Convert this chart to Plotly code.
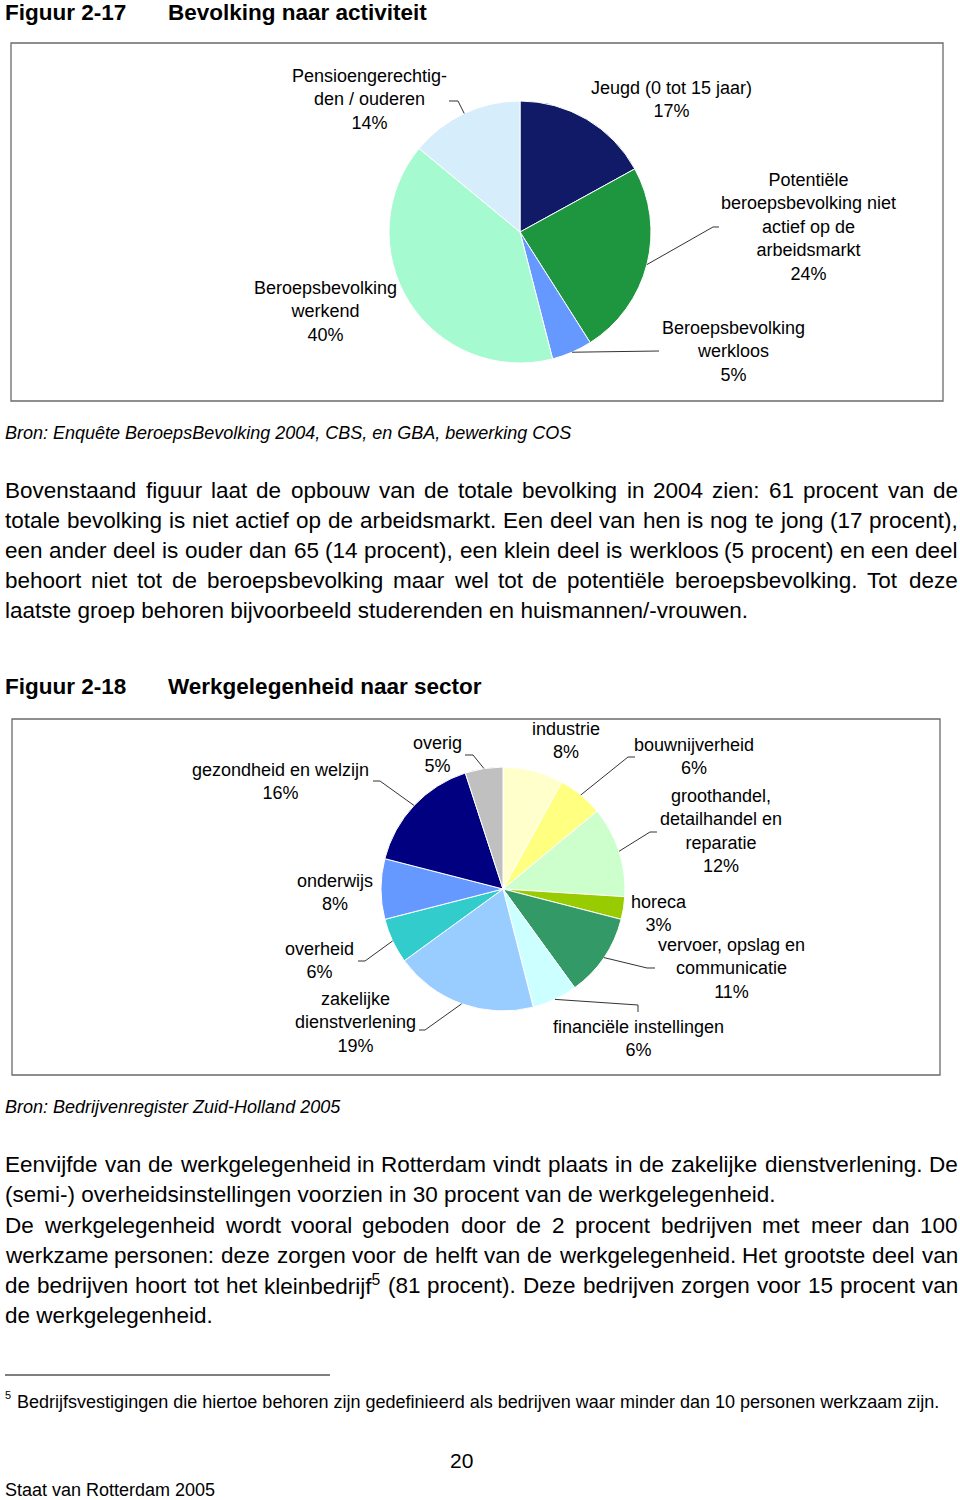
import math
import re
import plotly.graph_objects as go

W, H = 960, 1500
FONT = "Liberation Sans, Arial, sans-serif"

# ---------------- data ----------------
pop_labels = ["Jeugd (0 tot 15 jaar)",
              "Potentiële beroepsbevolking niet actief op de arbeidsmarkt",
              "Beroepsbevolking werkloos",
              "Beroepsbevolking werkend",
              "Pensioengerechtigden / ouderen"]
pop_label_lines = [["Jeugd (0 tot 15 jaar)"],
                   ["Potentiële", "beroepsbevolking niet", "actief op de", "arbeidsmarkt"],
                   ["Beroepsbevolking", "werkloos"],
                   ["Beroepsbevolking", "werkend"],
                   ["Pensioengerechtig-", "den / ouderen"]]
pop_values = [17, 24, 5, 40, 14]
pop_colors = ["#101A66", "#1E9640", "#6699FF", "#A6FAD0", "#D6EDFB"]

sector_labels = ["industrie", "bouwnijverheid", "groothandel, detailhandel en reparatie",
                 "horeca", "vervoer, opslag en communicatie", "financiële instellingen",
                 "zakelijke dienstverlening", "overheid", "onderwijs",
                 "gezondheid en welzijn", "overig"]
sector_label_lines = [["industrie"], ["bouwnijverheid"],
                      ["groothandel,", "detailhandel en", "reparatie"],
                      ["horeca"], ["vervoer, opslag en", "communicatie"],
                      ["financiële instellingen"], ["zakelijke", "dienstverlening"],
                      ["overheid"], ["onderwijs"], ["gezondheid en welzijn"], ["overig"]]
sector_values = [8, 6, 12, 3, 11, 6, 19, 6, 8, 16, 5]
sector_colors = ["#FFFFCC", "#FFFF80", "#CCFFCC", "#99CC00", "#339966", "#CCFFFF",
                 "#99CCFF", "#33CCCC", "#6699FF", "#000080", "#C0C0C0"]

title1 = ("Figuur 2-17", "Bevolking naar activiteit")
title2 = ("Figuur 2-18", "Werkgelegenheid naar sector")
source1 = "Bron: Enquête BeroepsBevolking 2004, CBS, en GBA, bewerking COS"
source2 = "Bron: Bedrijvenregister Zuid-Holland 2005"
para1 = ["Bovenstaand figuur laat de opbouw van de totale bevolking in 2004 zien: 61 procent van de",
         "totale bevolking is niet actief op de arbeidsmarkt. Een deel van hen is nog te jong (17 procent),",
         "een ander deel is ouder dan 65 (14 procent), een klein deel is werkloos (5 procent) en een deel",
         "behoort niet tot de beroepsbevolking maar wel tot de potentiële beroepsbevolking. Tot deze",
         "laatste groep behoren bijvoorbeeld studerenden en huismannen/-vrouwen."]
para2 = ["Eenvijfde van de werkgelegenheid in Rotterdam vindt plaats in de zakelijke dienstverlening. De",
         "(semi-) overheidsinstellingen voorzien in 30 procent van de werkgelegenheid.",
         "De werkgelegenheid wordt vooral geboden door de 2 procent bedrijven met meer dan 100",
         "werkzame personen: deze zorgen voor de helft van de werkgelegenheid. Het grootste deel van",
         "de bedrijven hoort tot het kleinbedrijf<sup>5</sup> (81 procent). Deze bedrijven zorgen voor 15 procent van",
         "de werkgelegenheid."]
para1_justify = [True, True, True, True, False]
para2_justify = [True, False, True, True, True, False]
footnote = "Bedrijfsvestigingen die hiertoe behoren zijn gedefinieerd als bedrijven waar minder dan 10 personen werkzaam zijn."
page_number = "20"
footer = "Staat van Rotterdam 2005"

# ---------------- layout geometry (pixels) ----------------
PIE1 = dict(cx=520, cy=232, r=131)
PIE2 = dict(cx=503, cy=889, r=122)
LABEL_SIZE = 18
BODY_SIZE = 22.5
TITLE_SIZE = 22.5

pop_label_pos = [(671, 100), (808, 227), (733, 351), (325, 311), (369, 100)]
sector_label_pos = [(566, 740), (694, 756), (721, 831), (659, 913), (731, 968),
                    (638, 1038), (355, 1022), (319, 960), (335, 892), (280, 781), (437, 754)]
# leader line anchor points near the labels (pie end is computed from data)
pop_leaders = {4: [(449, 101), (458, 101)], 1: [(719, 227), (713, 227)], 2: [(659, 351)]}
sector_leaders = {10: [(465, 755), (473, 755)], 9: [(373, 781), (380, 781)],
                  7: [(358, 961), (365, 961)], 6: [(419, 1030), (425, 1030)],
                  5: [(638, 1012), (638, 1005)], 4: [(655, 968), (647, 968)],
                  2: [(657, 832), (650, 832)], 1: [(635, 757), (628, 757)]}

# Helvetica/Arial advance widths (1/1000 em)
CW = {' ': 278, '!': 278, '%': 889, '(': 333, ')': 333, ',': 278, '-': 333, '.': 278, '/': 278,
      ':': 278, ';': 278,
      'A': 667, 'B': 667, 'C': 722, 'D': 722, 'E': 667, 'F': 611, 'G': 778, 'H': 722, 'I': 278,
      'J': 500, 'K': 667, 'L': 556, 'M': 833, 'N': 722, 'O': 778, 'P': 667, 'Q': 778, 'R': 722,
      'S': 667, 'T': 611, 'U': 722, 'V': 667, 'W': 944, 'X': 667, 'Y': 667, 'Z': 611,
      'a': 556, 'b': 556, 'c': 500, 'd': 556, 'e': 556, 'f': 278, 'g': 556, 'h': 556, 'i': 222,
      'j': 222, 'k': 500, 'l': 222, 'm': 833, 'n': 556, 'o': 556, 'p': 556, 'q': 556, 'r': 333,
      's': 500, 't': 278, 'u': 556, 'v': 500, 'w': 722, 'x': 500, 'y': 500, 'z': 500,
      'ë': 556, 'ê': 556, 'é': 556}


def tw(s, size):
    sup = re.findall(r"<sup>(.*?)</sup>", s)
    plain = re.sub(r"<sup>.*?</sup>", "", s)
    w = sum(CW.get(c, 556) for c in plain) / 1000 * size
    for t in sup:
        w += sum(CW.get(c, 556) for c in t) / 1000 * size * 0.7
    return w


def px(x):
    return x / W


def py(y):
    return 1 - y / H


annotations = []
shapes = []


def text(s, x, y, size, xanchor="center", yanchor="middle", weight="normal", style="normal"):
    annotations.append(dict(text=s, x=px(x), y=py(y), xref="paper", yref="paper",
                            showarrow=False, xanchor=xanchor, yanchor=yanchor, align="center",
                            borderpad=0, borderwidth=0,
                            font=dict(family=FONT, size=size, color="#000000",
                                      weight=weight, style=style)))


def paragraph(lines, ys, just, x0=5, x1=958, size=BODY_SIZE):
    for line, y, j in zip(lines, ys, just):
        if not j:
            text(line, x0, y, size, xanchor="left")
            continue
        words = line.split(" ")
        ws = [tw(w, size) for w in words]
        gap = (x1 - x0 - sum(ws)) / (len(words) - 1)
        x = x0
        for w, wd in zip(words, ws):
            text(w, x, y, size, xanchor="left")
            x += wd + gap


def edge(pie, values, i):
    cum = sum(values[:i]) + values[i] / 2
    a = 2 * math.pi * cum / sum(values)
    return (pie["cx"] + pie["r"] * math.sin(a), pie["cy"] - pie["r"] * math.cos(a))


def path(points):
    d = "M " + " L ".join(f"{px(x):.5f},{py(y):.5f}" for x, y in points)
    shapes.append(dict(type="path", path=d, xref="paper", yref="paper",
                       line=dict(color="#333333", width=1)))


def rect(x0, y0, x1, y1):
    shapes.append(dict(type="rect", x0=px(x0), x1=px(x1), y0=py(y1), y1=py(y0),
                       xref="paper", yref="paper", line=dict(color="#6a6a6a", width=1.3),
                       layer="below"))


def domain(p):
    return dict(x=[(p["cx"] - p["r"]) / W, (p["cx"] + p["r"]) / W],
                y=[1 - (p["cy"] + p["r"]) / H, 1 - (p["cy"] - p["r"]) / H])


fig = go.Figure()
fig.add_trace(go.Pie(labels=pop_labels, values=pop_values, sort=False, direction="clockwise",
                     rotation=0, textinfo="none", hoverinfo="label+percent",
                     marker=dict(colors=pop_colors, line=dict(color="#FFFFFF", width=1)),
                     domain=domain(PIE1), showlegend=False))
fig.add_trace(go.Pie(labels=sector_labels, values=sector_values, sort=False, direction="clockwise",
                     rotation=0, textinfo="none", hoverinfo="label+percent",
                     marker=dict(colors=sector_colors, line=dict(color="#FFFFFF", width=1)),
                     domain=domain(PIE2), showlegend=False))

# frames
rect(11, 43, 943, 401)
rect(12, 719, 940, 1075)

# titles
text(title1[0], 5, 0, TITLE_SIZE, xanchor="left", yanchor="top", weight="bold")
text(title1[1], 168, 0, TITLE_SIZE, xanchor="left", yanchor="top", weight="bold")
text(title2[0], 5, 686, TITLE_SIZE, xanchor="left", weight="bold")
text(title2[1], 168, 686, TITLE_SIZE, xanchor="left", weight="bold")

# pie labels
for lines, v, (x, y) in zip(pop_label_lines, pop_values, pop_label_pos):
    text("<br>".join(lines + [f"{v}%"]), x, y, LABEL_SIZE)
for lines, v, (x, y) in zip(sector_label_lines, sector_values, sector_label_pos):
    text("<br>".join(lines + [f"{v}%"]), x, y, LABEL_SIZE)

# leader lines
for i, pts in pop_leaders.items():
    path(pts + [edge(PIE1, pop_values, i)])
for i, pts in sector_leaders.items():
    path(pts + [edge(PIE2, sector_values, i)])

# sources
text(source1, 5, 433, 18, xanchor="left", style="italic")
text(source2, 5, 1107, 18, xanchor="left", style="italic")

# body text
paragraph(para1, [490, 520, 550, 580, 610], para1_justify)
paragraph(para2, [1164, 1194, 1225, 1255, 1285, 1315], para2_justify)

# footnote
shapes.append(dict(type="line", x0=px(5), x1=px(330), y0=py(1375), y1=py(1375),
                   xref="paper", yref="paper", line=dict(color="#000000", width=1)))
text("5", 5, 1395, 11, xanchor="left")
fn_size = (940 - 17) / tw(footnote, 1)
text(footnote, 17, 1402, fn_size, xanchor="left")
text(page_number, 461, 1460, 21)
text(footer, 5, H, 18, xanchor="left", yanchor="bottom")

fig.update_layout(width=W, height=H, margin=dict(l=0, r=0, t=0, b=0),
                  paper_bgcolor="#FFFFFF", plot_bgcolor="#FFFFFF",
                  annotations=annotations, shapes=shapes, showlegend=False)
fig.write_html("out.html")
